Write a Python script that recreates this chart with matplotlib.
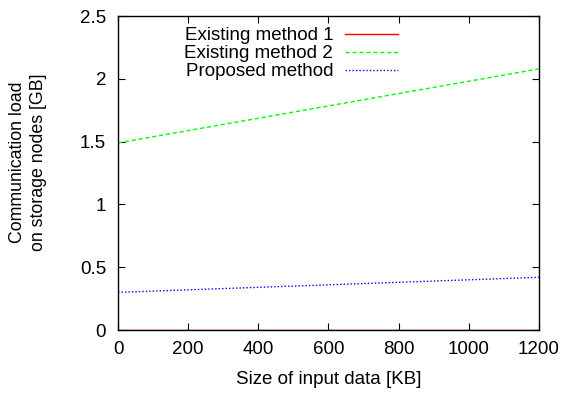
import matplotlib
matplotlib.use("Agg")
import matplotlib.pyplot as plt

plt.rcParams['font.family'] = ['Liberation Sans', 'DejaVu Sans']

x = [0, 1200]
existing1 = [0.0, 0.0]
existing2 = [1.49, 2.08]
proposed = [0.30, 0.42]

xticks = [0, 200, 400, 600, 800, 1000, 1200]
yticks = [0, 0.5, 1, 1.5, 2, 2.5]
yticklabels = ['0', '0.5', '1', '1.5', '2', '2.5']

FS = 13.5

fig = plt.figure(figsize=(5.66, 3.94), dpi=100)
ax = fig.add_axes([0.2085, 0.1624, 0.7435, 0.7966])

ax.plot(x, existing1, color='#ff0000', lw=1.0, label='Existing method 1')
ax.plot(x, existing2, color='#00ff00', lw=1.0, ls=(0, (3, 2)), label='Existing method 2')
ax.plot(x, proposed, color='#0000ff', lw=1.0, ls=(0, (1, 1.5)), label='Proposed method')

ax.set_xlim(0, 1200)
ax.set_ylim(0, 2.5)
ax.set_xticks(xticks)
ax.set_xticklabels([str(t) for t in xticks])
ax.set_yticks(yticks)
ax.set_yticklabels(yticklabels)
ax.tick_params(direction='in', top=True, right=True, length=5, labelsize=FS)
ax.tick_params(axis='x', pad=8)
ax.tick_params(axis='y', pad=8.5)
for s in ax.spines.values():
    s.set_linewidth(1.0)

ax.set_xlabel('Size of input data [KB]', fontsize=FS, labelpad=9)
ax.set_ylabel('Communication load\non storage nodes [GB]', fontsize=12.8,
              linespacing=1.3, va='center', ha='center')
ax.yaxis.set_label_coords(-0.214, 0.535)

leg = ax.legend(loc='upper right', bbox_to_anchor=((398 - 118) / 421, 0.965), frameon=False,
                fontsize=FS, markerfirst=False, handlelength=2.8, handletextpad=0.65,
                labelspacing=0.05, borderaxespad=0.0, borderpad=0.0)
for col in leg._legend_box._children[1]._children:
    col.align = 'right'

fig.savefig('out.png', dpi=100)
